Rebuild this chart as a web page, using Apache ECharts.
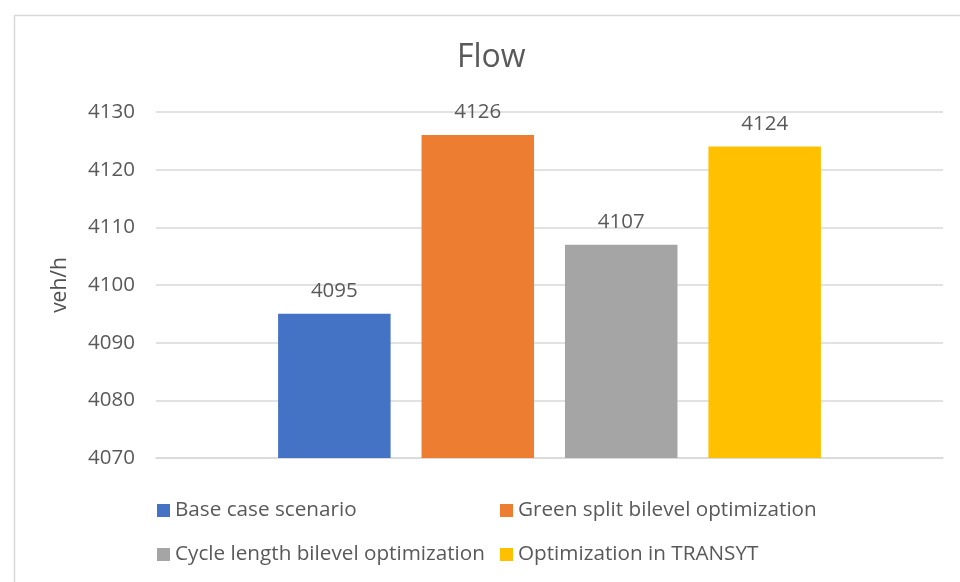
<!DOCTYPE html>
<html>
<head>
<meta charset="utf-8">
<script src="https://cdn.jsdelivr.net/npm/echarts@6/dist/echarts.min.js"></script>
<style>html,body{margin:0;padding:0;background:#fff}#c{width:960px;height:582px}</style>
</head>
<body>
<div id="c"></div>
<script>
var categories = ['Flow'];
var seriesNames = ['Base case scenario', 'Green split bilevel optimization', 'Cycle length bilevel optimization', 'Optimization in TRANSYT'];
var baseCase = [4095];
var greenSplit = [4126];
var cycleLength = [4107];
var transyt = [4124];
var yTicks = [4070, 4080, 4090, 4100, 4110, 4120, 4130];

var colors = ['#4472C4', '#ED7D31', '#A5A5A5', '#FFC000'];
var values = [baseCase, greenSplit, cycleLength, transyt];
var FONT = '"Open Sans", "Noto Sans", sans-serif';
var textColor = '#595959';

var chart = echarts.init(document.getElementById('c'), null, {renderer: 'canvas'});
var series = seriesNames.map(function (n, i) {
  return {
    name: n,
    type: 'bar',
    data: values[i],
    barWidth: 112.5,
    barGap: '27.5%',
    itemStyle: {color: colors[i]},
    label: {
      show: true, position: 'top', distance: 12,
      color: textColor, fontSize: 20.5, fontFamily: FONT
    }
  };
});
var legendText = {color: textColor, fontSize: 20.7, fontFamily: FONT, lineHeight: 20};
chart.setOption({
  animation: false,
  backgroundColor: '#fff',
  graphic: [{
    type: 'rect', left: 12, top: 13,
    shape: {width: 1000, height: 600},
    style: {fill: 'none', stroke: '#d9d9d9', lineWidth: 1.5},
    silent: true
  }, {
    type: 'text', left: 457, top: 42,
    style: {text: 'Flow', fill: textColor, font: '32px "Open Sans", "Noto Sans", sans-serif'},
    silent: true
  }],
  legend: [{
    data: [seriesNames[0], seriesNames[2]],
    orient: 'vertical', left: 157, top: 500, padding: 0,
    itemWidth: 13, itemHeight: 13, itemGap: 23, itemTextGap: 6,
    icon: 'rect',
    textStyle: legendText
  }, {
    data: [seriesNames[1], seriesNames[3]],
    orient: 'vertical', left: 500, top: 500, padding: 0,
    itemWidth: 13, itemHeight: 13, itemGap: 23, itemTextGap: 6,
    icon: 'rect',
    textStyle: legendText
  }],
  grid: {left: 156, right: 17, top: 112, bottom: 124, containLabel: false},
  xAxis: {
    type: 'category', data: categories,
    axisLine: {show: true, lineStyle: {color: '#d9d9d9', width: 1.5}},
    axisTick: {show: false}, axisLabel: {show: false}
  },
  yAxis: {
    type: 'value', min: yTicks[0], max: yTicks[yTicks.length - 1], interval: 10,
    name: 'veh/h', nameLocation: 'middle', nameGap: 85,
    nameTextStyle: {color: '#505050', fontSize: 21, fontFamily: FONT},
    axisLine: {show: false}, axisTick: {show: false},
    axisLabel: {color: textColor, fontSize: 20.5, fontFamily: FONT, margin: 21,
      formatter: function (v) { return String(v); }},
    splitLine: {lineStyle: {color: '#d9d9d9', width: 1.5}}
  },
  series: series
});
</script>
</body>
</html>
